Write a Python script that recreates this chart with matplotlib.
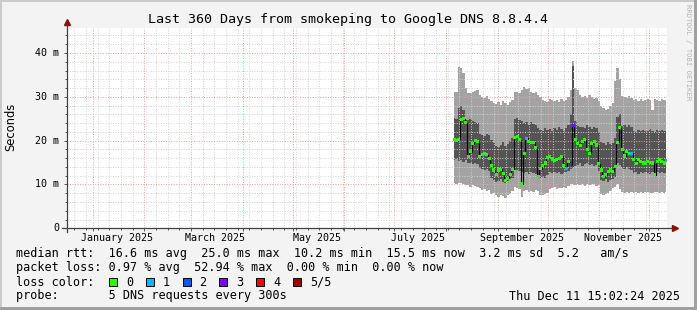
import matplotlib
matplotlib.use('Agg')
import matplotlib.pyplot as plt
import matplotlib.dates as mdates
from matplotlib.ticker import MultipleLocator, FixedLocator, NullFormatter
from matplotlib.patches import Rectangle
from matplotlib.lines import Line2D
import pandas as pd

W, H = 697, 310
MONO = 'DejaVu Sans Mono'

# time span of the graph and of the smokeping samples
graph_start = pd.Timestamp('2024-12-16 15:02:24')
graph_end = pd.Timestamp('2025-12-11 15:02:24')
first_sample = pd.Timestamp('2025-08-05 22:00')
sample_step = '2016min'

# median rtt in ms
median_ms = [
    20.2, 20.0, 20.3, 24.8, 25.0, 24.1, 16.4, 17.5, 19.3, 20.0,
    19.9, 16.4, 16.9, 17.1, 16.8, 16.0, 14.3, 13.3, 12.2, 13.3,
    13.5, 12.6, 11.0, 11.4, 12.2, 13.5, 20.8, 20.9, 20.2, 10.1,
    17.1, 20.5, 19.8, 19.6, 19.6, 18.5, 11.8, 13.6, 14.3, 14.9,
    16.2, 16.4, 15.8, 15.5, 15.6, 16.0, 16.4, 14.3, 13.7, 15.2,
    14.5, 23.4, 20.2, 19.4, 18.8, 19.8, 20.2, 17.9, 17.1, 19.3,
    19.8, 19.0, 14.7, 13.3, 11.8, 12.2, 13.0, 13.3, 13.0, 14.1,
    19.6, 22.9, 17.9, 16.5, 17.5, 17.1, 17.1, 15.6, 14.7, 15.6,
    15.2, 14.9, 14.9, 15.2, 15.0, 14.9, 12.2, 15.2, 15.6, 15.2,
    14.9, 15.5,
]
# lost pings (of 5) per sample
loss_pings = [0] * 92
for i in (31, 48, 76, 91):
    loss_pings[i] = 1
for i in (50, 51):
    loss_pings[i] = 3

# smoke: outer band (min..max) and inner band (lo..hi), ms
ping_max = [
    31.2, 31.0, 36.8, 36.5, 35.4, 32.0, 30.9, 30.8, 31.0, 31.3,
    31.5, 30.5, 30.0, 29.8, 30.2, 29.6, 29.0, 28.5, 28.3, 28.8,
    28.2, 29.0, 28.5, 28.2, 28.8, 29.3, 31.2, 31.0, 30.8, 31.5,
    32.2, 31.8, 32.0, 31.0, 30.8, 31.2, 30.5, 30.0, 29.3, 29.0,
    28.8, 29.5, 29.2, 29.0, 29.3, 28.8, 29.5, 29.0, 29.2, 30.0,
    31.5, 38.2, 32.0, 31.5, 30.5, 30.0, 30.2, 29.8, 30.5, 30.0,
    29.5, 29.8, 29.0, 28.0, 27.5, 27.0, 27.2, 27.8, 28.5, 33.5,
    36.6, 34.0, 30.2, 30.0, 29.8, 30.1, 29.7, 29.3, 29.5, 29.1,
    29.4, 29.0, 29.3, 29.5, 29.2, 27.0, 29.4, 29.3, 29.1, 29.4,
    29.2, 29.3,
]
ping_hi = [
    25.1, 25.0, 27.5, 28.0, 27.0, 24.8, 24.6, 24.9, 24.5, 24.2,
    24.0, 21.5, 21.3, 21.0, 21.6, 21.2, 20.2, 19.5, 18.8, 18.6,
    19.0, 19.8, 18.7, 19.2, 20.0, 20.5, 25.0, 25.2, 24.8, 24.5,
    24.0, 24.3, 23.6, 24.2, 23.8, 23.5, 22.8, 22.5, 22.2, 22.8,
    22.4, 22.6, 22.3, 22.8, 22.5, 23.0, 22.6, 22.2, 22.9, 23.5,
    26.0, 37.0, 24.5, 23.4, 23.0, 23.2, 22.8, 23.5, 23.0, 22.7,
    23.2, 22.9, 22.0, 19.8, 19.4, 19.0, 19.6, 19.2, 19.5, 20.5,
    25.5, 26.0, 23.4, 23.6, 23.2, 23.5, 23.0, 22.3, 22.0, 22.5,
    22.2, 22.4, 22.1, 22.3, 22.6, 22.2, 22.0, 22.4, 22.2, 22.5,
    22.1, 22.3,
]
ping_lo = [
    15.6, 15.8, 15.4, 15.6, 15.2, 15.5, 14.9, 15.0, 14.7, 14.9,
    14.6, 13.8, 13.5, 13.2, 13.6, 13.0, 11.5, 11.0, 10.5, 10.8,
    11.2, 10.6, 10.4, 10.8, 11.2, 11.5, 13.4, 13.2, 13.0, 12.8,
    12.7, 12.9, 12.5, 12.8, 12.6, 12.4, 11.6, 11.4, 11.8, 11.5,
    12.2, 12.8, 12.6, 12.9, 12.7, 12.8, 12.5, 12.6, 12.8, 13.0,
    13.5, 13.8, 14.2, 14.5, 14.8, 14.3, 14.6, 14.9, 14.4, 14.6,
    14.2, 14.5, 13.0, 11.0, 10.8, 11.2, 10.6, 11.0, 11.3, 11.8,
    15.0, 14.5, 13.8, 13.5, 13.9, 13.6, 13.2, 12.7, 12.8, 12.5,
    12.9, 12.6, 12.8, 12.7, 12.5, 12.8, 12.6, 12.9, 12.7, 12.8,
    12.6, 12.7,
]
ping_min = [
    10.3, 10.2, 10.4, 10.3, 10.1, 9.9, 9.8, 9.5, 9.9, 9.6,
    9.4, 9.2, 8.8, 9.0, 8.5, 8.8, 7.8, 8.0, 7.5, 7.2,
    7.6, 7.4, 7.0, 7.5, 7.8, 8.5, 9.5, 9.3, 9.0, 7.1,
    8.5, 8.8, 8.3, 8.6, 8.2, 8.8, 8.4, 7.7, 7.5, 7.8,
    8.0, 9.0, 9.2, 9.4, 9.0, 9.3, 9.1, 9.5, 9.2, 9.6,
    10.0, 10.2, 9.8, 10.1, 9.9, 10.0, 9.7, 10.2, 9.8, 10.1,
    10.0, 9.6, 9.8, 7.8, 7.6, 7.9, 8.0, 8.6, 9.2, 9.5,
    10.0, 9.0, 8.2, 8.1, 8.3, 8.0, 8.2, 8.1, 8.3, 8.0,
    8.2, 8.1, 8.3, 8.2, 8.0, 8.1, 8.3, 8.2, 8.0, 8.2,
    8.1, 8.3,
]

loss_colors = ['#26ff00', '#00b8ff', '#0059ff', '#7e00ff', '#ff0000', '#a10000']
loss_labels = ['0', '1', '2', '3', '4', '5/5']

month_labels = ['January 2025', 'March 2025', 'May 2025',
                'July 2025', 'September 2025', 'November 2025']
month_label_dates = ['2025-01-15 12:00', '2025-03-15 12:00', '2025-05-15 12:00',
                     '2025-07-15 12:00', '2025-09-15 12:00', '2025-11-15 12:00']

legend_rows = [
    'median rtt:  16.6 ms avg  25.0 ms max  10.2 ms min  15.5 ms now  3.2 ms sd  5.2   am/s',
    'packet loss: 0.97 % avg  52.94 % max  0.00 % min  0.00 % now',
    'loss color:',
    'probe:       5 DNS requests every 300s',
]
stamp = 'Thu Dec 11 15:02:24 2025'

times = pd.date_range(first_sample, periods=len(median_ms), freq=sample_step)

fig = plt.figure(figsize=(W / 100, H / 100), dpi=100, facecolor='#f3f3f3')


def fx(px):
    return px / W


def fy(py):
    return 1 - py / H


# 3d frame round the image
fig.add_artist(Rectangle((0, 0), 1, fy(H - 3), transform=fig.transFigure,
                         color='#a0a0a0', lw=0))
fig.add_artist(Rectangle((fx(W - 3), 0), fx(3), 1, transform=fig.transFigure,
                         color='#a0a0a0', lw=0))
fig.add_artist(Rectangle((0, fy(2)), 1 - fx(3), fx(2) * W / H, transform=fig.transFigure,
                         color='#cbcbcb', lw=0))
fig.add_artist(Rectangle((0, fy(H - 3)), fx(2), 1, transform=fig.transFigure,
                         color='#cbcbcb', lw=0))

ax = fig.add_axes([fx(67), fy(228.3), fx(600), 200.3 / H])
ax.set_facecolor('white')

ax.fill_between(times, ping_min, ping_max, step='mid', color='#a3a3a3', lw=0, zorder=1)
ax.fill_between(times, ping_lo, ping_hi, step='mid', color='#545454', lw=0, zorder=1.1)
ax.step(times, median_ms, where='mid', color='black', lw=0.8, zorder=3)
ax.scatter(times, median_ms, c=[loss_colors[n] for n in loss_pings],
           marker='s', s=5, lw=0, zorder=4)

ax.set_xlim(graph_start, graph_end)
ax.set_ylim(0, 45.7)

# grid: weekly / 2 ms minor, month / 10 ms major
ax.xaxis.set_major_locator(mdates.MonthLocator())
ax.xaxis.set_minor_locator(mdates.WeekdayLocator(byweekday=mdates.SA))
ax.xaxis.set_major_formatter(NullFormatter())
ax.yaxis.set_major_locator(MultipleLocator(10))
ax.yaxis.set_minor_locator(MultipleLocator(2))
ax.set_yticklabels([])
ax.set_axisbelow(False)
ax.grid(which='minor', color='#d2d2d2', lw=0.7, ls=(0, (1, 1.6)), zorder=2)
ax.grid(which='major', color='#f09a9a', lw=0.7, ls=(0, (1, 1.6)), zorder=2.1)

ax.tick_params(which='both', direction='out', colors='#555555', labelsize=7.2)
ax.tick_params(axis='y', which='major', length=2.2, width=0.7)
ax.tick_params(axis='y', which='minor', length=1.5, width=0.7)
ax.tick_params(axis='x', which='major', length=2.2, width=0.7)
ax.tick_params(axis='x', which='minor', length=1.5, width=0.7)

for s in ax.spines.values():
    s.set_visible(False)
ax.add_line(Line2D([0, 0], [-0.02, 1.025], transform=ax.transAxes, color='#404040',
                   lw=0.9, clip_on=False, zorder=5))
ax.add_line(Line2D([-0.008, 1.01], [0, 0], transform=ax.transAxes, color='#404040',
                   lw=0.9, clip_on=False, zorder=5))
ax.plot([0], [1.03], marker='^', ms=4.2, color='#8b1010', transform=ax.transAxes,
        clip_on=False, zorder=6)
ax.plot([1.013], [0], marker='>', ms=4.2, color='#8b1010', transform=ax.transAxes,
        clip_on=False, zorder=6)

# y labels
for v in range(0, 50, 10):
    ax.text(-8 / 600, v, '0' if v == 0 else f'{v} m', transform=ax.get_yaxis_transform(),
            ha='right', va='center', family=MONO, fontsize=7.2)

# month labels centred mid month
for lab, d in zip(month_labels, month_label_dates):
    ax.text(pd.Timestamp(d), -10 / 200.3, lab, transform=ax.get_xaxis_transform(),
            ha='center', va='center', family=MONO, fontsize=7.2)

fig.text(fx(11), fy(127), 'Seconds', rotation=90, ha='center', va='center',
         family='DejaVu Sans', fontsize=8.3)
fig.text(0.5, fy(19), 'Last 360 Days from smokeping to Google DNS 8.8.4.4',
         ha='center', va='center', family=MONO, fontsize=9.6)
fig.text(fx(688), fy(4), 'RRDTOOL / TOBI OETIKER', rotation=270, ha='center', va='top',
         family=MONO, fontsize=5.2, color='#b4b4b4')

row_y = [254, 268, 282, 296]
for txt, y in zip(legend_rows, row_y):
    fig.text(fx(16), fy(y), txt, ha='left', va='center', family=MONO, fontsize=8.5)
fig.text(fx(680), fy(296), stamp, ha='right', va='center', family=MONO, fontsize=8.5)

for i, (c, lab) in enumerate(zip(loss_colors, loss_labels)):
    x0 = 109 + 36.8 * i
    fig.add_artist(Rectangle((fx(x0), fy(286)), fx(8), 8 / H, transform=fig.transFigure,
                             facecolor=c, edgecolor='black', lw=0.7))
    fig.text(fx(x0 + 17), fy(282), lab, ha='left', va='center', family=MONO, fontsize=8.5)

fig.savefig('out.png', dpi=100, facecolor=fig.get_facecolor())
